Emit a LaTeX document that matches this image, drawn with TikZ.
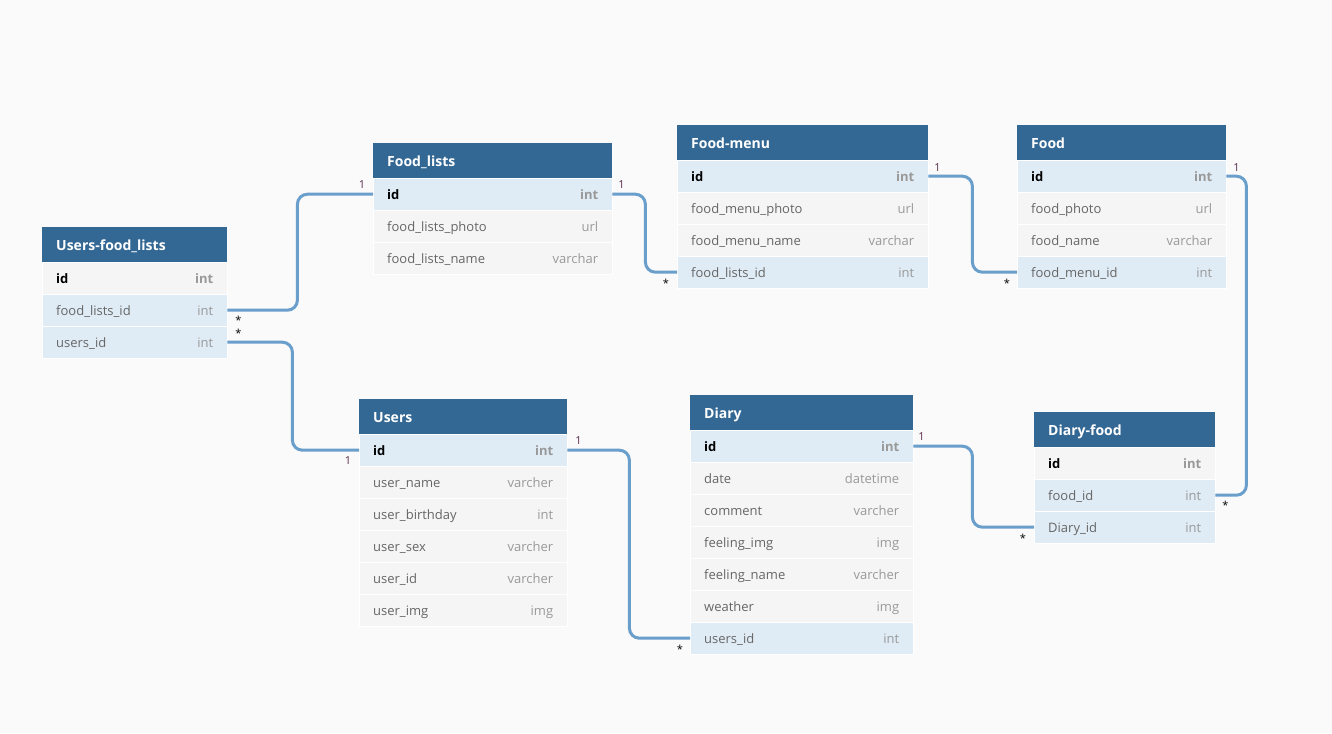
\documentclass[tikz,border=0pt]{standalone}
\usepackage{fontspec}
\setmainfont{Open Sans}
\usetikzlibrary{calc}
\definecolor{bgc}{HTML}{FAFAFA}
\definecolor{headc}{HTML}{346894}
\definecolor{rowb}{HTML}{E0ECF5}
\definecolor{rowg}{HTML}{F5F5F5}
\definecolor{fieldc}{HTML}{666666}
\definecolor{typec}{HTML}{999999}
\definecolor{connc}{HTML}{6A9FCC}
\definecolor{onec}{HTML}{5A2A4A}
\newcommand\erHead[5]{\node[erhead, text width=#4pt, anchor=north west] (#1) at (#2,#3) {#5};}
\newcommand\erRow[7]{\node[errow, fill=#5, text width=#4pt, anchor=north west] (#1) at (#2,#3) {#6\hfill\textcolor{typec}{#7}};}
\newcommand\pkf{\textbf{\textcolor{black}{id}}}
\newcommand\pkt{\textbf{int}}
\begin{document}
\begin{tikzpicture}[x=1pt,y=-1pt,
  erhead/.style={fill=headc, text=white, font=\fontsize{14}{16}\selectfont\bfseries, inner xsep=14pt, inner ysep=0pt, minimum height=35pt, text height=12.5pt, text depth=1pt, align=left},
  errow/.style={draw=white, line width=0.4pt, text=fieldc, font=\fontsize{13}{15}\selectfont, inner xsep=14pt, inner ysep=0pt, minimum height=32pt, text height=12pt, text depth=1pt, align=left},
  conn/.style={draw=connc, line width=3pt, rounded corners=10pt},
  onelab/.style={text=onec, font=\fontsize{11}{12}\selectfont, inner sep=0pt},
  manylab/.style={text=black, font=\fontsize{11}{12}\selectfont, inner sep=0pt}]
\fill[bgc] (0,0) rectangle (1332,733);
\useasboundingbox (0,0) rectangle (1332,733);
% Users-food_lists
\erHead{ufl}{42}{227}{157}{Users-food\_lists}
\erRow{ufl-id}{42}{262}{157}{rowg}{\pkf}{\pkt}
\erRow{ufl-flid}{42}{294}{157}{rowb}{food\_lists\_id}{int}
\erRow{ufl-uid}{42}{326}{157}{rowb}{users\_id}{int}
% Food_lists
\erHead{fl}{373}{143}{211}{Food\_lists}
\erRow{fl-id}{373}{178}{211}{rowb}{\pkf}{\pkt}
\erRow{fl-photo}{373}{210}{211}{rowg}{food\_lists\_photo}{url}
\erRow{fl-name}{373}{242}{211}{rowg}{food\_lists\_name}{varchar}
% Food-menu
\erHead{fm}{677}{125}{223}{Food-menu}
\erRow{fm-id}{677}{160}{223}{rowb}{\pkf}{\pkt}
\erRow{fm-photo}{677}{192}{223}{rowg}{food\_menu\_photo}{url}
\erRow{fm-name}{677}{224}{223}{rowg}{food\_menu\_name}{varchar}
\erRow{fm-flid}{677}{256}{223}{rowb}{food\_lists\_id}{int}
% Food
\erHead{f}{1017}{125}{181}{Food}
\erRow{f-id}{1017}{160}{181}{rowb}{\pkf}{\pkt}
\erRow{f-photo}{1017}{192}{181}{rowg}{food\_photo}{url}
\erRow{f-name}{1017}{224}{181}{rowg}{food\_name}{varchar}
\erRow{f-fmid}{1017}{256}{181}{rowb}{food\_menu\_id}{int}
% Users
\erHead{u}{359}{399}{180}{Users}
\erRow{u-id}{359}{434}{180}{rowb}{\pkf}{\pkt}
\erRow{u-name}{359}{466}{180}{rowg}{user\_name}{varcher}
\erRow{u-bd}{359}{498}{180}{rowg}{user\_birthday}{int}
\erRow{u-sex}{359}{530}{180}{rowg}{user\_sex}{varcher}
\erRow{u-uid}{359}{562}{180}{rowg}{user\_id}{varcher}
\erRow{u-img}{359}{594}{180}{rowg}{user\_img}{img}
% Diary
\erHead{d}{690}{395}{195}{Diary}
\erRow{d-id}{690}{430}{195}{rowb}{\pkf}{\pkt}
\erRow{d-date}{690}{462}{195}{rowg}{date}{datetime}
\erRow{d-com}{690}{494}{195}{rowg}{comment}{varcher}
\erRow{d-fimg}{690}{526}{195}{rowg}{feeling\_img}{img}
\erRow{d-fname}{690}{558}{195}{rowg}{feeling\_name}{varcher}
\erRow{d-weather}{690}{590}{195}{rowg}{weather}{img}
\erRow{d-uid}{690}{622}{195}{rowb}{users\_id}{int}
% Diary-food
\erHead{df}{1034}{412}{153}{Diary-food}
\erRow{df-id}{1034}{447}{153}{rowg}{\pkf}{\pkt}
\erRow{df-fid}{1034}{479}{153}{rowb}{food\_id}{int}
\erRow{df-did}{1034}{511}{153}{rowb}{Diary\_id}{int}
% connectors
\draw[conn] (ufl-flid.east) -- ++(70,0) |- (fl-id.west);
\draw[conn] (ufl-uid.east) -- ++(65,0) |- (u-id.west);
\draw[conn] (fl-id.east) -- ++(33,0) |- (fm-flid.west);
\draw[conn] (fm-id.east) -- ++(44,0) |- (f-fmid.west);
\draw[conn] (f-id.east) -- ++(20,0) |- (df-fid.east);
\draw[conn] (u-id.east) -- ++(62,0) |- (d-uid.west);
\draw[conn] (d-id.east) -- ++(59,0) |- (df-did.west);
% cardinality labels
\node[manylab] (l1m) at ($(ufl-flid.east)+(11,10)$) {*};
\node[onelab]  (l1o) at ($(fl-id.west)+(-11,-10)$) {1};
\node[manylab] (l2m) at ($(ufl-uid.east)+(11,-9)$) {*};
\node[onelab]  (l2o) at ($(u-id.west)+(-11,10)$) {1};
\node[onelab]  (l3o) at ($(fl-id.east)+(9,-10)$) {1};
\node[manylab] (l3m) at ($(fm-flid.west)+(-11,11)$) {*};
\node[onelab]  (l4o) at ($(fm-id.east)+(9,-9)$) {1};
\node[manylab] (l4m) at ($(f-fmid.west)+(-10,11)$) {*};
\node[onelab]  (l5o) at ($(f-id.east)+(10,-9)$) {1};
\node[manylab] (l5m) at ($(df-fid.east)+(10,10)$) {*};
\node[onelab]  (l6o) at ($(u-id.east)+(11,-10)$) {1};
\node[manylab] (l6m) at ($(d-uid.west)+(-10,11)$) {*};
\node[onelab]  (l7o) at ($(d-id.east)+(8,-10)$) {1};
\node[manylab] (l7m) at ($(df-did.west)+(-11,11)$) {*};
\end{tikzpicture}
\end{document}
